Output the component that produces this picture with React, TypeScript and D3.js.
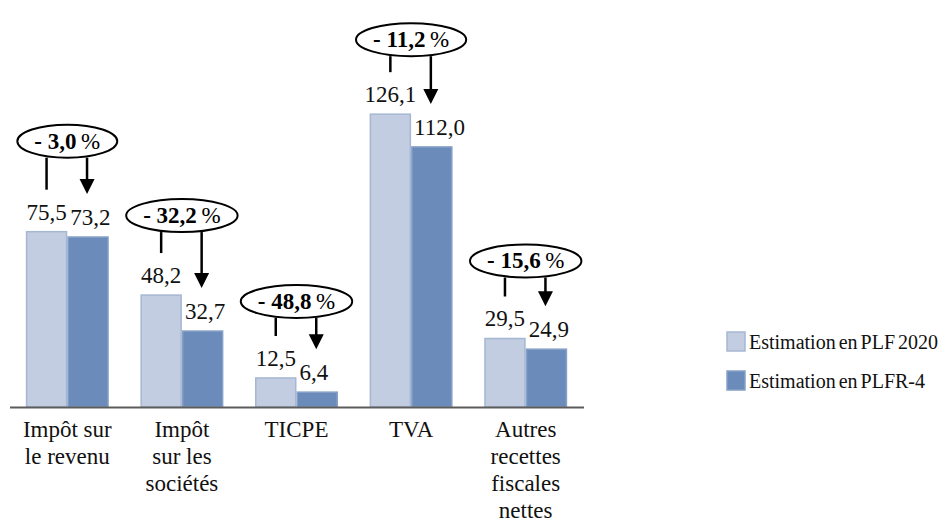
import React, { useEffect, useRef } from 'react';
import * as d3 from 'd3';

// ---- data ----
const categories: string[][] = [
  ['Impôt sur', 'le revenu'],
  ['Impôt', 'sur les', 'sociétés'],
  ['TICPE'],
  ['TVA'],
  ['Autres', 'recettes', 'fiscales', 'nettes'],
];
const plf2020 = [75.5, 48.2, 12.5, 126.1, 29.5];
const plfr4 = [73.2, 32.7, 6.4, 112.0, 24.9];
const changePct = [-3.0, -32.2, -48.8, -11.2, -15.6];
const seriesNames = ['Estimation en PLF 2020', 'Estimation en PLFR-4'];

// ---- layout ----
const W = 943;
const H = 527;
const calloutLift = [74, 63, 60, 58, 61];
const FONT = "Times New Roman, Liberation Serif, Times, serif";
const fills = ['#c2cde1', '#6b8cbb'];
const strokes = ['#a6b7d3', '#86a0c6'];

const fmt = (v: number) => v.toFixed(1).replace('.', ',');

export default function App() {
  const ref = useRef<SVGSVGElement>(null);

  useEffect(() => {
    const svg = d3.select(ref.current);
    svg.selectAll('*').remove();

    const idx = d3.range(categories.length);
    const x = d3.scaleBand<number>().domain(idx).range([10, 583]).paddingInner(0.276).paddingOuter(0.138);
    const xs = d3.scaleBand<number>().domain([0, 1]).range([0, x.bandwidth()]);
    const y = d3.scaleLinear().domain([0, 140]).range([407, 81.9]);

    const series = [plf2020, plfr4];
    series.forEach((vals, s) => {
      svg.append('g').selectAll('rect').data(vals).join('rect')
        .attr('x', (_, i) => (x(i) as number) + (xs(s) as number) + 0.75)
        .attr('y', (d) => y(d))
        .attr('width', xs.bandwidth() - 1.5)
        .attr('height', (d) => y(0) - y(d))
        .attr('fill', fills[s])
        .attr('stroke', strokes[s])
        .attr('stroke-width', 1.5);
    });

    // axis line
    svg.append('line')
      .attr('x1', 10).attr('x2', 584).attr('y1', 407.5).attr('y2', 407.5)
      .attr('stroke', '#5c5c5c').attr('stroke-width', 2);

    // value labels
    const vl = svg.append('g').style('font-family', FONT).attr('font-size', 23).attr('fill', '#111');
    plf2020.forEach((v, i) => {
      vl.append('text')
        .attr('x', (x(i) as number) + (xs(0) as number) + xs.bandwidth() / 2)
        .attr('y', y(v) - 12)
        .attr('text-anchor', 'middle')
        .text(fmt(v));
    });
    plfr4.forEach((v, i) => {
      vl.append('text')
        .attr('x', (x(i) as number) + (xs(1) as number) + 3)
        .attr('y', y(v) - 12)
        .attr('text-anchor', 'start')
        .text(fmt(v));
    });

    // callouts
    idx.forEach((i) => {
      const cx = (x(i) as number) + x.bandwidth() / 2;
      const eb = y(plf2020[i]) - calloutLift[i];
      const ry = 16.5;
      const cy = eb - ry;
      const g = svg.append('g');
      const ell = g.append('ellipse').attr('cx', cx).attr('cy', cy).attr('ry', ry)
        .attr('fill', '#fff').attr('stroke', '#000').attr('stroke-width', 2);
      const t = g.append('text').attr('x', cx).attr('y', cy + 7.5).attr('text-anchor', 'middle')
        .style('font-family', FONT).attr('font-size', 23).attr('fill', '#000');
      t.append('tspan').attr('font-weight', 'bold').text('- ' + fmt(Math.abs(changePct[i])));
      t.append('tspan').text('\u2009%');
      const w = (t.node() as SVGTextElement).getComputedTextLength();
      ell.attr('rx', w / 2 + 17);

      const lx = (x(i) as number) + (xs(0) as number) + xs.bandwidth() / 2;
      g.append('line').attr('x1', lx).attr('x2', lx).attr('y1', eb).attr('y2', y(plf2020[i]) - 42)
        .attr('stroke', '#000').attr('stroke-width', 2.5);
      const ax = (x(i) as number) + (xs(1) as number) + xs.bandwidth() / 2 - 1;
      const tip = y(plfr4[i]) - 43;
      g.append('line').attr('x1', ax).attr('x2', ax).attr('y1', eb).attr('y2', tip - 12)
        .attr('stroke', '#000').attr('stroke-width', 2.5);
      g.append('path')
        .attr('d', `M${ax - 7.5},${tip - 15}L${ax + 7.5},${tip - 15}L${ax},${tip}Z`)
        .attr('fill', '#000');
    });

    // category labels
    const cl = svg.append('g').style('font-family', FONT).attr('font-size', 23).attr('fill', '#111');
    categories.forEach((lines, i) => {
      const cxm = (x(i) as number) + x.bandwidth() / 2;
      const t = cl.append('text').attr('x', cxm).attr('y', 437).attr('text-anchor', 'middle');
      lines.forEach((ln, k) => {
        t.append('tspan').attr('x', cxm).attr('dy', k === 0 ? 0 : 27).text(ln);
      });
    });

    // legend
    const lg = svg.append('g').style('font-family', FONT).attr('font-size', 20).attr('fill', '#111');
    seriesNames.forEach((name, s) => {
      const ly = 332 + s * 39;
      lg.append('rect').attr('x', 727).attr('y', ly).attr('width', 18).attr('height', 19)
        .attr('fill', fills[s]).attr('stroke', strokes[s]).attr('stroke-width', 1.5);
      lg.append('text').attr('x', 749).attr('y', ly + 17).attr('word-spacing', -2).text(name);
    });
  }, []);

  return (
    <svg
      ref={ref}
      width={W}
      height={H}
      style={{ position: 'absolute', left: 0, top: 0, background: '#fff' }}
    />
  );
}
